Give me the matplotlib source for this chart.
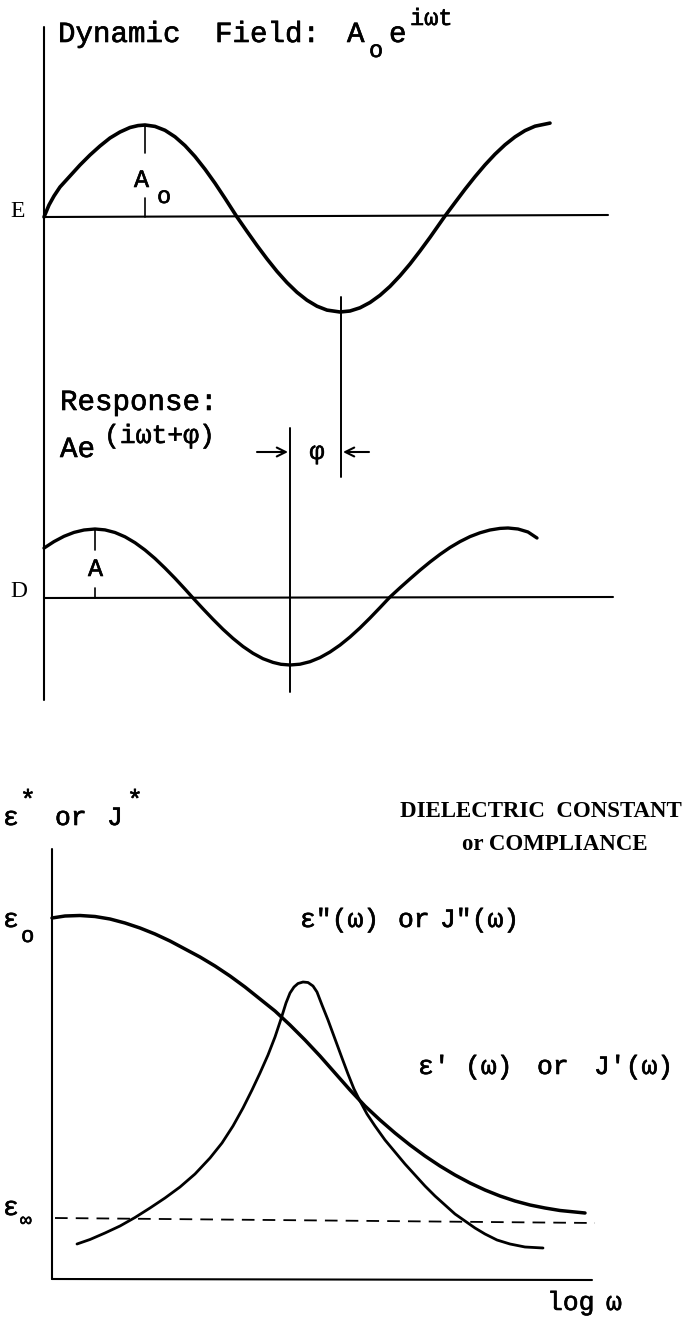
import matplotlib
matplotlib.use("Agg")
import matplotlib.pyplot as plt
import matplotlib.patheffects as pe

# ---- data (reference pixel units, y downwards) ----
# Dynamic field E(t)
E_x = [44, 49, 54, 60, 70, 80, 90, 100, 110, 120, 130, 138, 145, 155, 165, 175, 185, 195, 205,
       215, 225, 237, 247, 257, 267, 277, 287, 297, 307, 317, 327, 340, 350, 360, 370, 380,
       390, 400, 410, 420, 430, 445, 455, 465, 475, 485, 495, 505, 515, 525, 535, 550]
E_y = [217, 205, 196, 187, 176, 165, 155, 146, 138, 132, 127.5, 125.6, 125, 126.4, 130.3, 136.8,
       145.6, 156.5, 169.2, 183.2, 198.3, 217, 231.4, 245.5, 258.9, 271.4, 282.6, 292.3, 300.2,
       306.2, 310.1, 312, 311, 307.8, 302.5, 295.3, 286.4, 275.8, 264, 251, 237.4, 216, 202.6,
       189.3, 176.7, 164.9, 154.2, 144.8, 136.9, 130.6, 126.2, 123.1]
# Response D(t)
D_x = [44, 54, 64, 74, 84, 95, 105, 115, 125, 135, 145, 155, 165, 175, 185, 193, 203, 213, 223,
       233, 243, 253, 263, 273, 281, 290, 300, 310, 320, 330, 340, 350, 360, 370, 380, 390,
       400, 410, 420, 430, 440, 450, 460, 470, 480, 490, 500, 508, 518, 528, 537]
D_y = [548.1, 541.6, 536.3, 532.4, 530, 529, 529.9, 532.5, 536.8, 542.7, 550, 558.5, 568.1,
       578.3, 589.1, 598, 608.8, 619.3, 629.3, 638.4, 646.5, 653.3, 658.7, 662.4, 664.3, 665,
       664.2, 661.7, 657.6, 652, 645.1, 637, 627.9, 618, 607.6, 597, 587.8, 578.9, 570.2, 562,
       554.4, 547.5, 541.6, 536.6, 532.8, 530, 528.4, 528, 529, 532, 538]
# eps'(w) / J'(w)
eps1_x = [52, 65, 80, 95, 110, 125, 140, 155, 170, 185, 200, 215, 230, 245, 260, 275, 290, 305,
          320, 335, 350, 365, 380, 395, 410, 425, 440, 455, 470, 485, 500, 515, 530, 545, 560,
          575, 585]
eps1_y = [918, 916, 915.5, 916.5, 919, 923, 928, 934, 941, 949, 957, 966, 976, 987, 999, 1011,
          1025, 1040, 1056, 1073, 1090, 1106, 1120, 1133, 1145, 1156, 1166, 1175, 1183, 1190,
          1196, 1201, 1205, 1208, 1210.5, 1212, 1213]
# eps''(w) / J''(w)
eps2_x = [77, 90, 105, 120, 135, 150, 165, 180, 195, 210, 222, 233, 243, 252, 260, 268, 275, 281,
          286, 290, 294, 298, 303, 308, 313, 317, 322, 328, 335, 342, 348, 354, 360, 367, 375,
          385, 395, 405, 415, 425, 435, 445, 455, 465, 475, 485, 497, 510, 525, 543]
eps2_y = [1244, 1239.5, 1233, 1226, 1217.5, 1208, 1198, 1187, 1174, 1158, 1143, 1126, 1108,
          1090, 1073, 1055, 1037, 1019, 1003, 993, 987, 983.5, 982, 982.5, 986, 992, 1005, 1020,
          1039, 1058, 1074, 1089, 1101, 1114, 1126, 1140, 1152, 1164, 1175, 1186, 1196, 1205,
          1214, 1221, 1228, 1234, 1240, 1244, 1247, 1248]
# eps_infinity level
eps_inf_x = [55, 595]
eps_inf_y = [1218, 1223]

MONO = ["Liberation Mono", "DejaVu Sans Mono"]
SERIF = ["Liberation Serif", "DejaVu Serif"]
THICK = [pe.withStroke(linewidth=0.45, foreground="black")]

fig = plt.figure(figsize=(6.83, 13.18), dpi=100)
ax = fig.add_axes([0, 0, 1, 1])
ax.set_xlim(0, 683)
ax.set_ylim(1318, 0)
ax.axis("off")

k = dict(color="black", solid_capstyle="round", solid_joinstyle="round")


def mono(x, y, s, size, **kw):
    ax.text(x, y, s, family=MONO, fontsize=size, va=kw.pop("va", "baseline"),
            path_effects=THICK, **kw)


# ---------------- top: E and D ----------------
ax.plot([44, 44], [27, 700], lw=1.5, **k)           # shared vertical axis
ax.plot([44, 608], [217, 215], lw=1.5, **k)         # E baseline
ax.plot([44, 613], [598, 597], lw=1.5, **k)         # D baseline
ax.plot(E_x, E_y, lw=2.6, **k)
ax.plot(D_x, D_y, lw=2.4, **k)

# amplitude markers
ax.plot([145, 145], [125, 153], lw=1.2, **k)
ax.plot([145, 145], [198, 217], lw=1.2, **k)
ax.plot([95, 95], [529, 550], lw=1.2, **k)
ax.plot([95, 95], [588, 598], lw=1.2, **k)
# phase lines
ax.plot([341, 341], [297, 477], lw=1.4, **k)
ax.plot([290, 290], [428, 692], lw=1.4, **k)
ap = dict(arrowstyle="->", lw=1.5, color="black", mutation_scale=16, shrinkA=0, shrinkB=0)
ax.annotate("", xy=(288, 452), xytext=(257, 452), arrowprops=ap)
ax.annotate("", xy=(343, 452), xytext=(369, 452), arrowprops=ap)

fs = 21
mono(58, 42, "Dynamic", fs)
mono(215, 42, "Field:", fs)
mono(347, 42, "A", fs)
mono(369, 57, "o", 17)
mono(389, 42, "e", fs)
mono(410, 25, "iωt", 17)

ax.text(10, 217, "E", family=SERIF, fontsize=17, va="baseline")
ax.text(10, 597, "D", family=SERIF, fontsize=17, va="baseline")
mono(134, 187, "A", 18)
mono(157, 203, "o", 17)
mono(88, 576, "A", 18)

mono(60, 410, "Response:", fs)
mono(60, 457, "Ae", fs)
mono(104, 443, "(iωt+φ)", 19)
mono(317, 452, "φ", 18, ha="center", va="center")

# ---------------- bottom: dielectric constant / compliance ----------------
ax.plot([52, 52], [849, 1279], lw=1.5, **k)
ax.plot([52, 592], [1279, 1280], lw=1.5, **k)
ax.plot(eps_inf_x, eps_inf_y, lw=1.3, color="black", linestyle=(0, (7, 4.5)))
ax.plot(eps1_x, eps1_y, lw=2.5, **k)
ax.plot(eps2_x, eps2_y, lw=2.0, **k)

fb = 19
mono(3, 825, "ε", fb)
mono(20, 808, "*", fb)
mono(55, 825, "or", fb)
mono(107, 825, "J", fb)
mono(127, 808, "*", fb)

mono(3, 927, "ε", fb)
mono(21, 942, "o", 16)
mono(3, 1215, "ε", fb)
mono(20, 1226, "∞", 14)

ax.text(400, 817, "DIELECTRIC  CONSTANT", family=SERIF, fontsize=16.5, weight="bold",
        va="baseline")
ax.text(462, 850, "or COMPLIANCE", family=SERIF, fontsize=16.5, weight="bold", va="baseline")

mono(300, 927, "ε\"(ω)", fb)
mono(398, 927, "or", fb)
mono(440, 927, "J\"(ω)", fb)

mono(418, 1074, "ε'", fb)
mono(465, 1074, "(ω)", fb)
mono(537, 1074, "or", fb)
mono(594, 1074, "J'(ω)", fb)

mono(547, 1310, "log", fb)
mono(606, 1310, "ω", fb)

fig.savefig("out.png", dpi=100)
